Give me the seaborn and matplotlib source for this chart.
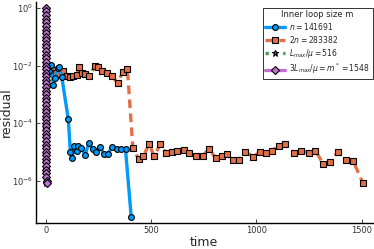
import numpy as np
import pandas as pd
import matplotlib
matplotlib.use("Agg")
import matplotlib.pyplot as plt
import seaborn as sns

# ---------------- data ----------------
blue_t = [0, 12, 22, 35, 43, 55, 62, 75, 106, 116, 124, 135, 146, 151, 167, 186,
          203, 222, 238, 257, 275, 294, 314, 337, 357, 378, 405]
blue_exp = [-2.0, -2.2, -1.98, -2.68, -2.45, -2.1, -2.05, -2.4, -3.87, -5.02, -5.22,
            -4.80, -4.96, -4.80, -4.86, -5.11, -4.71, -4.90, -5.02, -4.85, -5.06,
            -5.09, -4.82, -4.90, -4.92, -4.92, -7.26]

orange_t = [0, 16, 30, 48, 63, 83, 98, 114, 130, 146, 159, 170, 186, 206, 233, 249,
            265, 289, 313, 340, 365, 387, 413, 440, 463, 490, 514, 543, 571, 598,
            625, 654, 681, 714, 744, 773, 810, 837, 860, 887, 916, 948, 984, 1019,
            1046, 1075, 1106, 1138, 1178, 1213, 1249, 1281, 1318, 1352, 1387, 1427,
            1460, 1506]
orange_exp = [-1.95, -2.2, -2.15, -2.25, -2.3, -2.2, -2.35, -2.4, -2.37, -2.33, -2.05,
              -2.25, -2.3, -2.38, -2.0, -2.06, -2.2, -2.25, -2.35, -2.62, -2.22, -2.13,
              -4.88, -5.25, -5.14, -4.74, -5.15, -4.74, -5.05, -5.01, -4.96, -4.94,
              -5.05, -5.15, -5.14, -4.92, -5.23, -5.15, -5.08, -5.29, -5.29, -5.0,
              -5.17, -5.0, -5.05, -4.96, -4.79, -4.74, -5.03, -4.96, -5.03, -4.96,
              -5.43, -5.35, -5.0, -5.29, -5.32, -6.08]

green_t = [0.0, 0.1, 0.2, 0.3, 0.4, 0.5, 0.6, 0.7, 0.8, 0.9]
green_exp = [0.0, -0.7, -1.4, -2.1, -2.8, -3.5, -4.2, -4.9, -5.6, -6.1]

purple_t = [0.0, 0.05, 0.1, 0.15, 0.2, 0.25, 0.3, 0.35, 0.4, 0.45,
            0.5, 0.55, 0.6, 0.65, 0.7, 0.75, 0.8, 0.85, 0.9, 0.95,
            1.0, 1.05, 1.1, 1.15, 1.2, 1.25, 1.3, 1.35, 1.4, 1.45,
            1.5, 1.55, 1.6, 1.65, 1.7, 1.75, 1.8, 1.85, 1.9, 1.95,
            2.0, 2.05, 2.1, 2.15, 2.2, 2.25, 2.3, 2.35, 2.4, 2.45]
purple_exp = [0.0, -0.12, -0.25, -0.37, -0.5, -0.62, -0.75, -0.87, -1.0, -1.12,
              -1.25, -1.37, -1.5, -1.62, -1.75, -1.87, -2.0, -2.12, -2.25, -2.37,
              -2.5, -2.62, -2.75, -2.87, -3.0, -3.12, -3.25, -3.37, -3.5, -3.62,
              -3.75, -3.87, -4.0, -4.12, -4.25, -4.37, -4.5, -4.62, -4.75, -4.87,
              -5.0, -5.12, -5.25, -5.37, -5.5, -5.62, -5.75, -5.87, -6.0, -6.1]

labels = [r"$n=141691$", r"$2n=283382$", r"$L_{max}/\mu=516$",
          r"$3L_{max}/\mu=m^*=1548$"]
legend_title = "Inner loop size m"
x_ticks = [0, 500, 1000, 1500]
y_ticks = [1e0, 1e-2, 1e-4, 1e-6]

# ---------------- plotting ----------------
sns.set_style("ticks")
plt.rcParams['font.family'] = ['DejaVu Sans']

fig = plt.figure(figsize=(3.74, 2.49), dpi=100)
ax = fig.add_axes([0.096, 0.104, 0.9, 0.888])

def df_of(t, e):
    return pd.DataFrame({"time": t, "residual": 10.0 ** np.array(e)})

common = dict(estimator=None, sort=False, ax=ax, markeredgecolor="black",
              markeredgewidth=0.8)

sns.lineplot(data=df_of(blue_t, blue_exp), x="time", y="residual",
             color="#009AFA", linewidth=2.4, marker="o", markersize=4.2,
             label=labels[0], zorder=3, **common)
sns.lineplot(data=df_of(orange_t, orange_exp), x="time", y="residual",
             color="#E26F46", linewidth=2.4, linestyle=(0, (2.6, 1.6)), marker="s",
             markersize=3.9, label=labels[1], zorder=2, **common)
sns.lineplot(data=df_of(green_t, green_exp), x="time", y="residual",
             color="#3EA44E", linewidth=2.4, linestyle=":", marker="*",
             markersize=5, label=labels[2], zorder=1, **common)
sns.lineplot(data=df_of(purple_t, purple_exp), x="time", y="residual",
             color="#C271D2", linewidth=2.4, marker="D", markersize=3.8,
             label=labels[3], zorder=4, **common)

ax.set_yscale("log")
ax.set_xlim(-48, 1552)
ax.set_ylim(10 ** -7.48, 10 ** 0.21)
ax.set_xticks(x_ticks)
ax.set_xticklabels([str(v) for v in x_ticks])
ax.set_yticks(y_ticks)
ax.set_yticklabels([r"$10^{0}$", r"$10^{-2}$", r"$10^{-4}$", r"$10^{-6}$"])
ax.yaxis.set_minor_locator(matplotlib.ticker.NullLocator())
ax.tick_params(axis="both", direction="in", length=3, width=0.6,
               labelsize=6, labelcolor="#333333", pad=2)
for s in ["top", "right"]:
    ax.spines[s].set_visible(False)
for s in ["left", "bottom"]:
    ax.spines[s].set_linewidth(1.0)
    ax.spines[s].set_color("black")

ax.set_xlabel("time", fontsize=9, labelpad=1)
ax.set_ylabel("residual", fontsize=9)
ax.yaxis.set_label_coords(-0.068, 0.5)

leg = ax.legend(title=legend_title, loc="upper right", bbox_to_anchor=(1.0, 0.975),
                borderaxespad=0, fontsize=5.5, title_fontsize=6, frameon=True,
                fancybox=False, handlelength=2.6, handletextpad=0.5,
                labelspacing=0.25, borderpad=0.35)
leg.get_frame().set_edgecolor("black")
leg.get_frame().set_linewidth(0.7)

fig.savefig("out.png", dpi=100)
